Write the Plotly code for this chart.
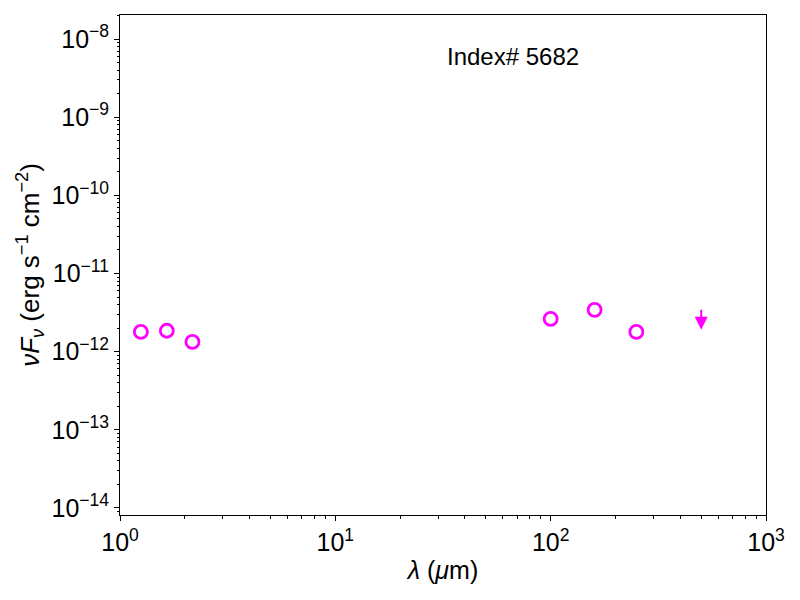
import numpy as np
import plotly.graph_objects as go

# photometry (wavelength in micron, nu F_nu in erg s^-1 cm^-2)
wave = [1.25, 1.65, 2.17, 100, 160, 250]
flux = [1.79e-12, 1.85e-12, 1.33e-12, 2.62e-12, 3.43e-12, 1.79e-12]

# upper limit
ul_wave = [500]
ul_flux = [3.6e-12]
ul_tip = [1.9e-12]

label = "Index# 5682"
magenta = "#ff00ff"

x_major = [1, 10, 100, 1000]
x_text = ["10<sup>0</sup>", "10<sup>1</sup>", "10<sup>2</sup>", "10<sup>3</sup>"]
y_exp = [-14, -13, -12, -11, -10, -9, -8]
y_major = [10.0 ** e for e in y_exp]
y_text = ["10<sup>\u2212%d</sup>" % -e for e in y_exp]

x_minor = [m * 10.0 ** d for d in range(0, 3) for m in range(2, 10)]
y_minor = [m * 10.0 ** d for d in range(-15, -7) for m in range(2, 10)]

fig = go.Figure()
fig.add_trace(go.Scatter(
    x=wave, y=flux, mode="markers",
    marker=dict(symbol="circle-open", size=13, color=magenta,
                line=dict(width=2.8, color=magenta)),
    showlegend=False,
))

# upper limit drawn as a down arrow
for xv, yv, yt in zip(ul_wave, ul_flux, ul_tip):
    fig.add_annotation(
        x=np.log10(xv), y=np.log10(yt), ax=np.log10(xv), ay=np.log10(yv),
        xref="x", yref="y", axref="x", ayref="y",
        text="", showarrow=True, arrowhead=2, arrowsize=1.3,
        arrowwidth=2, arrowcolor=magenta,
    )

fig.add_annotation(
    x=0.608, y=0.916, xref="paper", yref="paper", text=label,
    xanchor="center", yanchor="middle",
    showarrow=False, font=dict(size=24, color="black"),
)

axis_common = dict(
    type="log", showgrid=False, zeroline=False,
    showline=True, linecolor="black", linewidth=1, mirror=True,
    ticks="outside", ticklen=5, tickwidth=1, tickcolor="black",
    tickfont=dict(size=25, color="black"),
)

fig.update_xaxes(
    **axis_common, range=[0, 3],
    tickmode="array", tickvals=x_major, ticktext=x_text,
    minor=dict(tickvals=x_minor, ticks="outside", ticklen=2.5, tickcolor="black"),
    title=dict(text="<i>λ</i> (<i>μ</i>m)", font=dict(size=25, color="black"), standoff=6),
)
fig.update_yaxes(
    **axis_common, range=[-14.09, -7.693],
    tickmode="array", tickvals=y_major, ticktext=y_text,
    minor=dict(tickvals=y_minor, ticks="outside", ticklen=2.5, tickcolor="black"),
    title=dict(text="<i>νF<sub>ν</sub></i> (erg s<sup>\u22121</sup> cm<sup>\u22122</sup>)",
               font=dict(size=26, color="black"), standoff=4),
)

fig.update_layout(
    width=792, height=592,
    margin=dict(l=112, r=34, t=7, b=85),
    paper_bgcolor="white", plot_bgcolor="white",
    font=dict(family="Liberation Sans, Arial, sans-serif", color="black"),
)

fig.write_html("out.html")
